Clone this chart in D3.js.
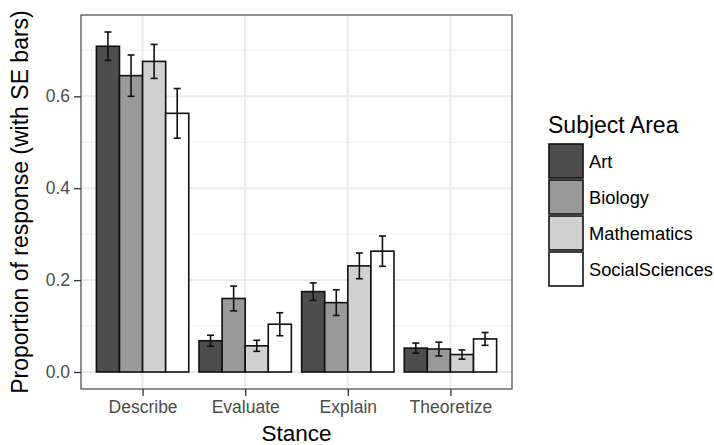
<!DOCTYPE html>
<html>
<head>
<meta charset="utf-8">
<script src="https://cdn.jsdelivr.net/npm/d3@7"></script>
<style>
  body { margin: 0; background: #fff; }
  text { font-family: "Liberation Sans", Arial, sans-serif; }
</style>
</head>
<body>
<div id="chart"></div>
<script>
const stances = ["Describe", "Evaluate", "Explain", "Theoretize"];
const subjects = ["Art", "Biology", "Mathematics", "SocialSciences"];
const fills = ["#4d4d4d", "#999999", "#d1d1d1", "#ffffff"];

// proportion of response per subject, in stance order
const artProp = [0.709, 0.068, 0.175, 0.052];
const bioProp = [0.645, 0.160, 0.151, 0.050];
const mathProp = [0.676, 0.057, 0.231, 0.038];
const socProp = [0.563, 0.104, 0.263, 0.072];

// standard errors, same order
const artSE = [0.031, 0.012, 0.019, 0.011];
const bioSE = [0.045, 0.027, 0.028, 0.015];
const mathSE = [0.037, 0.012, 0.028, 0.010];
const socSE = [0.054, 0.025, 0.033, 0.014];

const yTicks = [0.0, 0.2, 0.4, 0.6];
const yMinor = [0.1, 0.3, 0.5, 0.7];

const props = [artProp, bioProp, mathProp, socProp];
const ses = [artSE, bioSE, mathSE, socSE];

const data = [];
subjects.forEach((s, i) => {
  stances.forEach((st, j) => {
    data.push({subject: s, stance: st, value: props[i][j], se: ses[i][j]});
  });
});

const W = 714, H = 445;
const panel = {left: 81, right: 512, top: 15, bottom: 389};

const svg = d3.select("#chart").append("svg")
  .attr("width", W).attr("height", H);

// ggplot style scales with expansion
const hi = d3.max(data, d => d.value + d.se);
const pad = hi * 0.05;
const y = d3.scaleLinear().domain([-pad, hi + pad]).range([panel.bottom, panel.top]);

const x = d3.scalePoint().domain(stances)
  .range([panel.left, panel.right]).padding(0.6);
const unit = x.step();
const groupW = unit * 0.9;
const xSub = d3.scaleBand().domain(subjects).range([-groupW / 2, groupW / 2]);

// grid
const grid = svg.append("g");
grid.selectAll(".minor").data(yMinor).enter().append("line")
  .attr("x1", panel.left).attr("x2", panel.right)
  .attr("y1", d => y(d)).attr("y2", d => y(d))
  .attr("stroke", "#f3f3f3").attr("stroke-width", 1);
grid.selectAll(".major").data(yTicks).enter().append("line")
  .attr("x1", panel.left).attr("x2", panel.right)
  .attr("y1", d => y(d)).attr("y2", d => y(d))
  .attr("stroke", "#ebebeb").attr("stroke-width", 2);
grid.selectAll(".vmajor").data(stances).enter().append("line")
  .attr("x1", d => x(d)).attr("x2", d => x(d))
  .attr("y1", panel.top).attr("y2", panel.bottom)
  .attr("stroke", "#ebebeb").attr("stroke-width", 2);

// bars
svg.append("g").selectAll("rect").data(data).enter().append("rect")
  .attr("x", d => x(d.stance) + xSub(d.subject))
  .attr("width", xSub.bandwidth())
  .attr("y", d => y(d.value))
  .attr("height", d => y(0) - y(d.value))
  .attr("fill", d => fills[subjects.indexOf(d.subject)])
  .attr("stroke", "#111").attr("stroke-width", 1.6);

// error bars
const capW = xSub.bandwidth() * 0.3;
const eb = svg.append("g").attr("stroke", "#111").attr("stroke-width", 1.6);
data.forEach(d => {
  const cx = x(d.stance) + xSub(d.subject) + xSub.bandwidth() / 2;
  const y1 = y(d.value + d.se), y2 = y(d.value - d.se);
  eb.append("line").attr("x1", cx).attr("x2", cx).attr("y1", y1).attr("y2", y2);
  eb.append("line").attr("x1", cx - capW / 2).attr("x2", cx + capW / 2).attr("y1", y1).attr("y2", y1);
  eb.append("line").attr("x1", cx - capW / 2).attr("x2", cx + capW / 2).attr("y1", y2).attr("y2", y2);
});

// panel border
svg.append("rect")
  .attr("x", panel.left).attr("y", panel.top)
  .attr("width", panel.right - panel.left).attr("height", panel.bottom - panel.top)
  .attr("fill", "none").attr("stroke", "#555").attr("stroke-width", 1.3);

// axes
const yAxis = svg.append("g").attr("transform", `translate(${panel.left},0)`)
  .call(d3.axisLeft(y).tickValues(yTicks).tickFormat(d3.format(".1f")).tickSize(7).tickPadding(4));
const xAxis = svg.append("g").attr("transform", `translate(0,${panel.bottom})`)
  .call(d3.axisBottom(x).tickSize(7).tickPadding(5));
[yAxis, xAxis].forEach(a => {
  a.select(".domain").remove();
  a.selectAll(".tick line").attr("stroke", "#333").attr("stroke-width", 1.3);
  a.selectAll(".tick text").attr("fill", "#4d4d4d")
    .style("font-size", "17.5px").style("font-family", '"Liberation Sans", Arial, sans-serif');
});

// axis titles
svg.append("text")
  .attr("x", (panel.left + panel.right) / 2).attr("y", 441)
  .attr("text-anchor", "middle").style("font-size", "22.5px")
  .text("Stance");
svg.append("text")
  .attr("transform", `translate(28,${(panel.top + panel.bottom) / 2}) rotate(-90)`)
  .attr("text-anchor", "middle").style("font-size", "23px")
  .text("Proportion of response (with SE bars)");

// legend
const legend = svg.append("g").attr("transform", "translate(548,0)");
legend.append("text").attr("x", 0).attr("y", 133)
  .style("font-size", "23px").text("Subject Area");
const keys = legend.selectAll(".key").data(subjects).enter().append("g")
  .attr("transform", (d, i) => `translate(1,${144 + i * 36})`);
keys.append("rect")
  .attr("width", 34).attr("height", 34)
  .attr("fill", (d, i) => fills[i])
  .attr("stroke", "#111").attr("stroke-width", 1.6);
keys.append("text")
  .attr("x", 40).attr("y", 24)
  .style("font-size", "18.3px").text(d => d);
</script>
</body>
</html>
